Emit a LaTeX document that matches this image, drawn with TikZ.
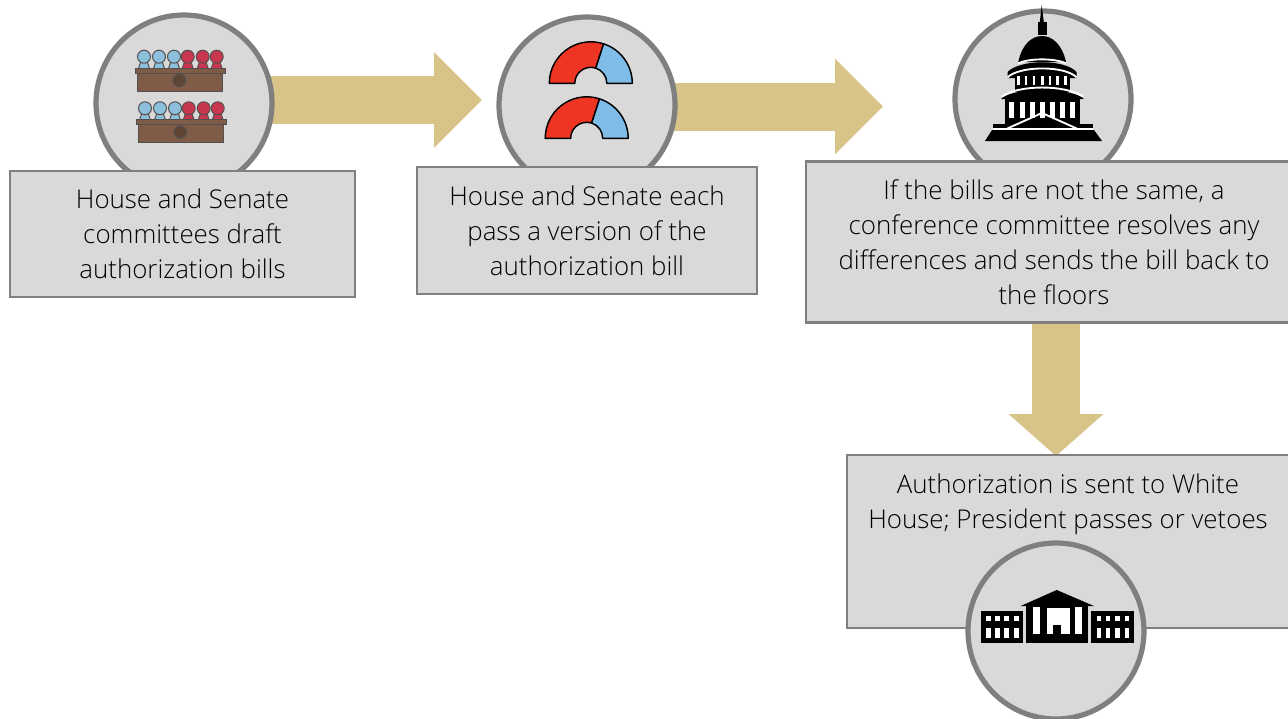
\documentclass[tikz,border=0pt]{standalone}
\usepackage{fontspec}
\setmainfont{Open Sans Light}
\usepackage{tikz}
\usetikzlibrary{arrows.meta}
\definecolor{boxfill}{HTML}{D9D9D9}
\definecolor{boxline}{HTML}{7F7F7F}
\definecolor{arrowtan}{HTML}{D8C488}
\definecolor{deskbrown}{HTML}{7E5C48}
\definecolor{deskline}{HTML}{55504E}
\definecolor{seatblue}{HTML}{8CC0DD}
\definecolor{seatred}{HTML}{C8374F}
\definecolor{chamberred}{HTML}{EE3524}
\definecolor{chamberblue}{HTML}{7FBCE8}
\tikzset{stepbox/.style={draw=boxline,fill=boxfill,line width=2.2pt,align=center,inner sep=0pt,font=\fontsize{19.4}{26.25}\selectfont},
    stepcircle/.style={circle,draw=boxline,fill=boxfill,line width=3.9pt,minimum size=132pt,inner sep=0pt},
    stepflow/.style={draw=arrowtan,line width=36pt,-{Triangle[length=36pt,width=69.5pt]}},
    steptext/.style={align=center,inner sep=0pt,font=\fontsize{19.4}{26.25}\selectfont},
    seat/.style={draw=deskline,line width=0.75pt},
    chamber/.style={draw=black,line width=1.1pt,line join=round},
    slit/.style={fill=white,draw=none},
    rim/.style={draw=white,line width=1.4pt}}
\begin{document}
\begin{tikzpicture}[x=0.75pt,y=0.75pt,yscale=-1,xscale=1]
\useasboundingbox (0,0) rectangle (1288,718);
\clip (0,0) rectangle (1288,718);

%Block arrows
\coordinate (flowAs) at (268,100);
\coordinate (flowAe) at (482,100);
\coordinate (flowBs) at (670,106.5);
\coordinate (flowBe) at (883,106.5);
\coordinate (flowCs) at (1056,318);
\coordinate (flowCe) at (1056,456);
\draw [stepflow] (flowAs) -- (flowAe);
\draw [stepflow] (flowBs) -- (flowBe);
\draw [stepflow,-{Triangle[length=31.5pt,width=69.5pt]}] (flowCs) -- (flowCe);

%Shape: Circle
\node (draftcircle) [stepcircle] at (184,103) {};
\node (passcircle) [stepcircle] at (587,105) {};
\node (domecircle) [stepcircle] at (1043,99) {};

% Text Node
\draw (182.5,234) node (draftbox) [stepbox,minimum width=258.75pt,minimum height=94.5pt] {House and Senate\\committees draft\\authorization bills};
% Text Node
\draw (587,230.5) node (passbox) [stepbox,minimum width=255pt,minimum height=95.25pt] {House and Senate each\\pass a version of the\\authorization bill};
% Text Node
\draw (1054,242) node (conferencebox) [stepbox,minimum width=372pt,minimum height=120.75pt] {If the bills are not the same, a\\conference committee resolves any\\differences and sends the bill back to\\the floors};
%Shape: Rectangle
\draw (1068,541.5) node (housebox) [stepbox,minimum width=331.5pt,minimum height=129.75pt] {};
% Text Node
\draw (1068,504) node (housetext) [steptext] {Authorization is sent to White\\House; President passes or vetoes};
%Shape: Circle
\node (housecircle) [stepcircle] at (1056,631) {};

%Desks with members
\foreach \dx/\dy in {0/0,1/51.6}{
  \begin{scope}[shift={(\dx,\dy)}]
  \foreach \px in {144,159,174}{
    \draw [seat,fill=seatblue] (\px-5.5,68.5) -- (\px-2,58) -- (\px+2,58) -- (\px+5.5,68.5) -- cycle;
    \draw [seat,fill=seatblue] (\px,56.7) circle (6.5);
  }
  \foreach \px in {187.7,202.7,216.7}{
    \draw [seat,fill=seatred] (\px-5.5,68.5) -- (\px-2,58) -- (\px+2,58) -- (\px+5.5,68.5) -- cycle;
    \draw [seat,fill=seatred] (\px,56.7) circle (6.5);
  }
  \draw [seat,fill=deskbrown] (137.7,73) rectangle (222.7,91);
  \draw [seat,fill=deskbrown] (135,68.3) rectangle (225,73.3);
  \draw [seat,fill=deskbrown!75!black] (179.3,80.5) circle (6.3);
  \end{scope}
}

%Chamber half rings
\foreach \cx/\cy in {590.8/83.3,586.7/138.3}{
  \begin{scope}[shift={(\cx,\cy)}]
  \draw [chamber,fill=chamberred] (180:41.5) arc [start angle=180,end angle=288,radius=41.5] -- (288:16) arc [start angle=288,end angle=180,radius=16] -- cycle;
  \draw [chamber,fill=chamberblue] (288:41.5) arc [start angle=288,end angle=360,radius=41.5] -- (0:16) arc [start angle=360,end angle=288,radius=16] -- cycle;
  \end{scope}
}

%Capitol dome
\fill (1041.7,5) -- (1039.8,22) -- (1043.8,22) -- cycle;
\fill (1038.3,21.7) rectangle (1047.3,34.5);
\fill (1018.3,62) .. controls (1022,44) and (1032,36) .. (1042,36) .. controls (1052,36) and (1062,44) .. (1066,62) -- cycle;
\fill (1007.5,72) .. controls (1020,59) and (1065,59) .. (1076.5,72) -- (1076.5,78) -- (1007.5,78) -- cycle;
\fill (1015,70) rectangle (1070,92);
\fill (1001.7,98) .. controls (1018,87) and (1066,87) .. (1083.3,98) -- (1083.3,99) -- (1001.7,99) -- cycle;
\fill (1005,98) rectangle (1080,125);
\fill (993,124) rectangle (1093,129);
\fill (992,130) -- (1094,130) -- (1102,141) -- (985,141) -- cycle;
\draw [rim] (1018.3,63.5) .. controls (1028,58) and (1056,58) .. (1066,63.5);
\draw [rim] (1007.5,77.3) .. controls (1020,65.5) and (1065,65.5) .. (1076.5,77.3);
\draw [rim] (1001.7,96.7) .. controls (1018,84.5) and (1066,84.5) .. (1083.3,96.7);
\foreach \wx in {1018.3,1026,1034,1042.3,1050,1057.7,1065.7}{
  \fill [slit] (\wx-1.3,75.5) rectangle (\wx+1.3,85);
}
\foreach \wx in {1011.7,1022.3,1032.3,1042.3,1052.3,1062.3,1072.3}{
  \fill [slit] (\wx-2.3,101.5) rectangle (\wx+2.3,117.5);
}
\draw [rim] (1007.3,128.5) -- (1042,113) -- (1076.7,128.5);
\draw [rim] (993,129.3) -- (1093,129.3);

%White House
\fill (980.7,611) rectangle (1023.3,642.7);
\fill (1091,611) rectangle (1134,642.7);
\foreach \wingx in {0,110.7}{
  \foreach \wx in {986,995,1004.3,1014}{
    \fill [slit] (\wx+\wingx,616) rectangle (\wx+\wingx+4.5,621);
    \fill [slit] (\wx+\wingx,627.5) rectangle (\wx+\wingx+4.5,638.3);
  }
}
\fill (1025.7,606) rectangle (1088.3,642.7);
\fill (1020.7,606) -- (1056.7,590) -- (1094,606) -- cycle;
\fill [slit] (1033.3,606.7) rectangle (1040,634.3);
\fill [slit] (1075,606.7) rectangle (1081.7,634.3);
\fill [slit] (1047.3,607.7) rectangle (1070,634.3);
\fill (1053.3,625) rectangle (1060.7,634.3);

\end{tikzpicture}
\end{document}
